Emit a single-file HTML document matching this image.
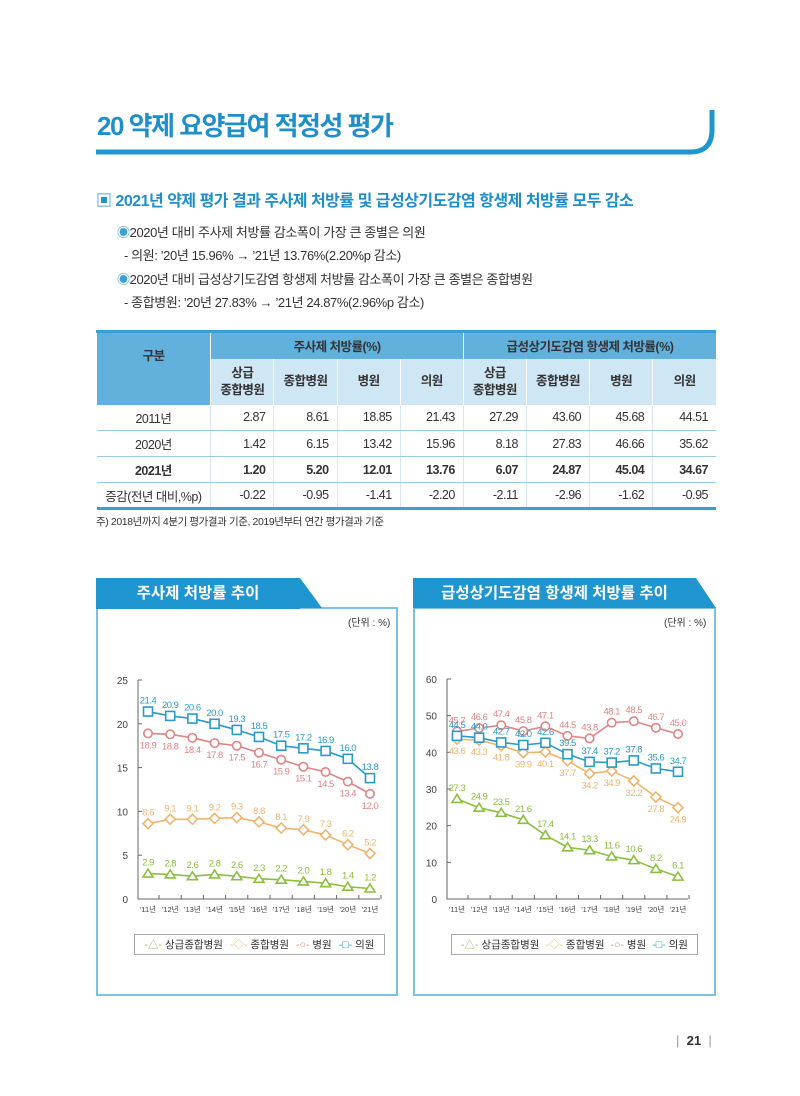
<!DOCTYPE html>
<html><head><meta charset="utf-8">
<style>
*{margin:0;padding:0;box-sizing:border-box}
body{width:800px;height:1096px;background:#fff;position:relative;overflow:hidden;font-family:"Liberation Sans","Noto Sans CJK KR",sans-serif;color:#333}
.abs{position:absolute}
.title{left:97px;top:106px;font-size:26px;font-weight:bold;color:#1f8fc9;letter-spacing:-1.5px}
.sec{left:96px;top:187px;font-size:16px;font-weight:bold;color:#1f8fc9;letter-spacing:-0.5px}
.bl{font-size:13px;color:#333;letter-spacing:-0.4px}
table{position:absolute;left:96px;top:330px;width:620px;border-collapse:collapse;font-size:12.5px;letter-spacing:-0.5px}
td,th{border-left:1px solid #fff;height:26px}
th{font-weight:bold;color:#333}
.h1{background:#62b0dc;height:27px}
.h2{background:#cfe6f4;height:46px;line-height:17px}
.gb{background:#62b0dc}
tbody td{text-align:right;padding-right:8px;border-left:1px solid #d8e8f2;border-bottom:1px solid #9ccbe6}
tbody td:first-child{text-align:center;padding-right:0;border-left:none}
.bold td{font-weight:bold}
.panel{border:2px solid #7cc0e4}
.tab{background:#1f96cf;color:#fff;font-weight:bold;font-size:15.5px;text-align:center;line-height:31px;height:31px}
.legend{border:1px solid #aaa;height:21px;font-size:10.5px;display:flex;align-items:center;justify-content:space-around;padding:0 6px}
</style></head><body>
<div class="abs title">20 약제 요양급여 적정성 평가</div>
<svg class="abs" style="left:0;top:0" width="800" height="170"><path d="M96 152 H690 Q712 152 712 130 V110" fill="none" stroke="#1f96cf" stroke-width="5"/></svg>
<div class="abs sec">▣ 2021년 약제 평가 결과 주사제 처방률 및 급성상기도감염 항생제 처방률 모두 감소</div>
<div class="abs bl" style="left:117px;top:222px"><span style="color:#3ba1d6">◉</span>2020년 대비 주사제 처방률 감소폭이 가장 큰 종별은 의원</div>
<div class="abs bl" style="left:124px;top:245px">- 의원: ’20년 15.96% → ’21년 13.76%(2.20%p 감소)</div>
<div class="abs bl" style="left:117px;top:269px"><span style="color:#3ba1d6">◉</span>2020년 대비 급성상기도감염 항생제 처방률 감소폭이 가장 큰 종별은 종합병원</div>
<div class="abs bl" style="left:124px;top:292px">- 종합병원: ’20년 27.83% → ’21년 24.87%(2.96%p 감소)</div>

<table style="border-top:3px solid #3a9fd4;border-bottom:3px solid #3a9fd4">
<colgroup><col style="width:114px"><col span="8" style="width:63px"></colgroup>
<thead>
<tr><th rowspan="2" class="gb" style="vertical-align:top;padding-top:12px">구분</th><th colspan="4" class="h1">주사제 처방률(%)</th><th colspan="4" class="h1">급성상기도감염 항생제 처방률(%)</th></tr>
<tr class="h2"><th class="h2">상급<br>종합병원</th><th class="h2">종합병원</th><th class="h2">병원</th><th class="h2">의원</th><th class="h2">상급<br>종합병원</th><th class="h2">종합병원</th><th class="h2">병원</th><th class="h2">의원</th></tr>
</thead>
<tbody>
<tr><td>2011년</td><td>2.87</td><td>8.61</td><td>18.85</td><td>21.43</td><td>27.29</td><td>43.60</td><td>45.68</td><td>44.51</td></tr>
<tr><td>2020년</td><td>1.42</td><td>6.15</td><td>13.42</td><td>15.96</td><td>8.18</td><td>27.83</td><td>46.66</td><td>35.62</td></tr>
<tr class="bold"><td>2021년</td><td>1.20</td><td>5.20</td><td>12.01</td><td>13.76</td><td>6.07</td><td>24.87</td><td>45.04</td><td>34.67</td></tr>
<tr><td>증감(전년 대비,%p)</td><td>-0.22</td><td>-0.95</td><td>-1.41</td><td>-2.20</td><td>-2.11</td><td>-2.96</td><td>-1.62</td><td>-0.95</td></tr>
</tbody></table>
<div class="abs" style="left:96px;top:514px;font-size:10.5px;letter-spacing:-0.4px">주) 2018년까지 4분기 평가결과 기준, 2019년부터 연간 평가결과 기준</div>

<div class="abs panel" style="left:96px;top:607px;width:302px;height:389px"></div>
<div class="abs panel" style="left:413px;top:607px;width:303px;height:389px"></div>
<svg class="abs" style="left:0;top:570px" width="800" height="45">
<polygon points="96,8 300,8 322,38 96,38" fill="#1f96cf"/>
<polygon points="413,8 696,8 716,38 413,38" fill="#1f96cf"/>
</svg>
<div class="abs tab" style="left:96px;top:578px;width:204px">주사제 처방률 추이</div>
<div class="abs tab" style="left:413px;top:578px;width:283px;background:transparent">급성상기도감염 항생제 처방률 추이</div>
<div class="abs" style="left:348px;top:614px;font-size:10px">(단위 : %)</div>
<div class="abs" style="left:664px;top:614px;font-size:10px">(단위 : %)</div>

<div class="abs legend" style="left:134px;top:934px;width:251px">
<span><span style="color:#8cbf3f">-△-</span> 상급종합병원</span>
<span><span style="color:#f0b46e">-◇-</span> 종합병원</span>
<span><span style="color:#e08585">-○-</span> 병원</span>
<span><span style="color:#2a9ac8">-□-</span> 의원</span></div>
<div class="abs legend" style="left:451px;top:934px;width:247px">
<span><span style="color:#8cbf3f">-△-</span> 상급종합병원</span>
<span><span style="color:#f0b46e">-◇-</span> 종합병원</span>
<span><span style="color:#e08585">-○-</span> 병원</span>
<span><span style="color:#2a9ac8">-□-</span> 의원</span></div>

<div class="abs" style="left:676px;top:1033px;font-size:13px;font-weight:bold;color:#333"><span style="color:#999;font-weight:normal">|</span>&nbsp;&nbsp;21&nbsp;&nbsp;<span style="color:#999;font-weight:normal">|</span></div>

<svg id="charts" class="abs" style="left:0;top:0" width="800" height="1096"></svg>
<script>
const years = ["'11년","'12년","'13년","'14년","'15년","'16년","'17년","'18년","'19년","'20년","'21년"];
const injTicks = [0,5,10,15,20,25];
const injTertiary = [2.9,2.8,2.6,2.8,2.6,2.3,2.2,2.0,1.8,1.4,1.2];
const injGeneral = [8.6,9.1,9.1,9.2,9.3,8.8,8.1,7.9,7.3,6.2,5.2];
const injHospital = [18.9,18.8,18.4,17.8,17.5,16.7,15.9,15.1,14.5,13.4,12.0];
const injClinic = [21.4,20.9,20.6,20.0,19.3,18.5,17.5,17.2,16.9,16.0,13.8];
const abxTicks = [0,10,20,30,40,50,60];
const abxTertiary = [27.3,24.9,23.5,21.6,17.4,14.1,13.3,11.6,10.6,8.2,6.1];
const abxGeneral = [43.6,43.3,41.8,39.9,40.1,37.7,34.2,34.9,32.2,27.8,24.9];
const abxHospital = [45.7,46.6,47.4,45.8,47.1,44.5,43.8,48.1,48.5,46.7,45.0];
const abxClinic = [44.5,44.0,42.7,42.0,42.6,39.5,37.4,37.2,37.8,35.6,34.7];

const NS="http://www.w3.org/2000/svg";
const svg=document.getElementById('charts');
function mk(tag,attrs,parent){const e=document.createElementNS(NS,tag);for(const k in attrs)e.setAttribute(k,attrs[k]);(parent||svg).appendChild(e);return e;}
const COL={t:'#8cbf3f',g:'#f0b46e',h:'#e08585',c:'#2a9ac8'};
function chart(cfg){
  const g=mk('g',{});
  
  
  const x=i=>cfg.x0+i*(cfg.x1-cfg.x0)/(years.length-1);
  const y=v=>cfg.yb-(v/cfg.max)*(cfg.yb-cfg.yt);
  const ax=mk('path',{d:`M${cfg.ax} ${cfg.yt} V${cfg.yb} H${cfg.x1+10}`,stroke:'#666',fill:'none','stroke-width':1},g);
  
  
  cfg.ticks.forEach(t=>{
    mk('line',{x1:cfg.ax,x2:cfg.ax+4,y1:y(t),y2:y(t),stroke:'#666'},g);
    const tx=mk('text',{x:cfg.ax-10,y:y(t)+4,'text-anchor':'end','font-size':10,fill:'#444'},g);
    tx.textContent=t;
    
    
  });
  years.forEach((yr,i)=>{
    mk('line',{x1:x(i)+11,x2:x(i)+11,y1:cfg.yb,y2:cfg.yb-4,stroke:'#666'},g);
    const tx=mk('text',{x:x(i),y:cfg.yb+13,'text-anchor':'middle','font-size':7.5,fill:'#444'},g);
    tx.textContent=yr;
    
    
  });
  cfg.series.forEach(s=>{
    const pts=s.v.map((v,i)=>x(i)+','+y(v)).join(' ');
    const pl=mk('polyline',{points:pts,fill:'none',stroke:COL[s.k],'stroke-width':1.6},g);
    
    
    s.v.forEach((v,i)=>{
      const cx=x(i),cy=y(v);let m;
      if(s.k==='t')m=mk('polygon',{points:`${cx},${cy-4.5} ${cx+5},${cy+3.5} ${cx-5},${cy+3.5}`},g);
      else if(s.k==='g')m=mk('polygon',{points:`${cx},${cy-5} ${cx+5},${cy} ${cx},${cy+5} ${cx-5},${cy}`},g);
      else if(s.k==='h')m=mk('circle',{cx:cx,cy:cy,r:4.2},g);
      else m=mk('rect',{x:cx-4.5,y:cy-4.5,width:9,height:9},g);
      m.setAttribute('fill','#fff');m.setAttribute('stroke',COL[s.k]);m.setAttribute('stroke-width',1.6);
      
      
      const lb=mk('text',{x:cx,y:s.below?cy+15:cy-8,'text-anchor':'middle','font-size':9.5,fill:COL[s.k],'letter-spacing':'-0.5'},g);
      lb.textContent=v.toFixed(1);
      
      
    });
  });
}
chart({name:'injection-chart',ax:138,x0:148,x1:370,yt:680,yb:899,max:25,ticks:injTicks,series:[
  {n:'tertiary',k:'t',v:injTertiary},{n:'general',k:'g',v:injGeneral},
  {n:'hospital',k:'h',v:injHospital,below:true},{n:'clinic',k:'c',v:injClinic}]});
chart({name:'antibiotic-chart',ax:447,x0:457,x1:678,yt:679,yb:899,max:60,ticks:abxTicks,series:[
  {n:'tertiary',k:'t',v:abxTertiary},{n:'general',k:'g',v:abxGeneral,below:true},
  {n:'hospital',k:'h',v:abxHospital},{n:'clinic',k:'c',v:abxClinic}]});
</script>
</body></html>
